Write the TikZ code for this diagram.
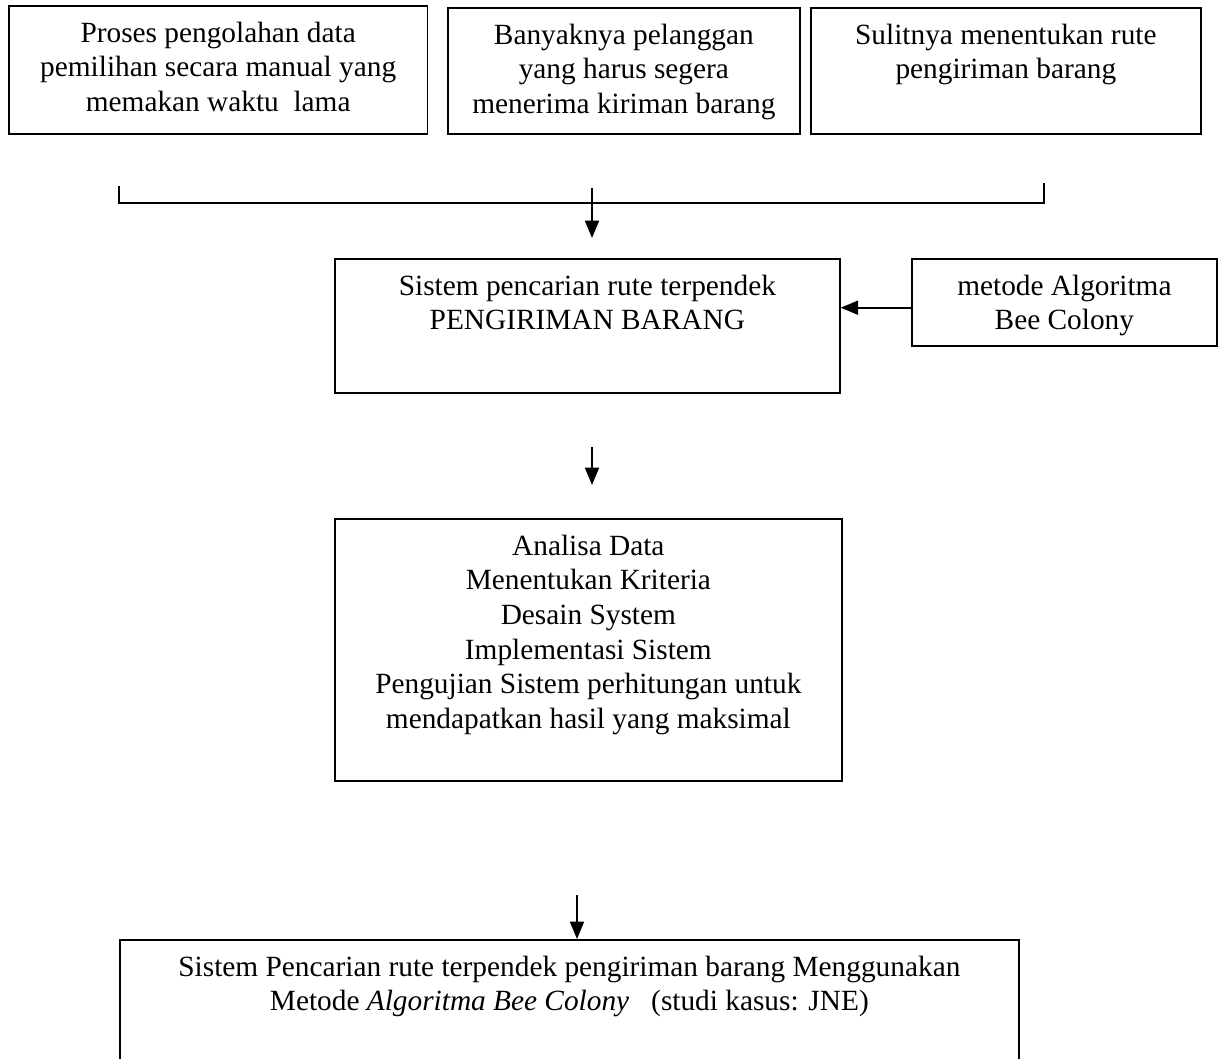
\documentclass[tikz,border=0pt]{standalone}
\usepackage{fontspec}
\setmainfont{Liberation Serif}
\usetikzlibrary{arrows.meta}
\newcommand{\isikotak}[3]{\parbox[t][#2][t]{#1}{\centering\vspace*{9pt}\strut #3}}

\begin{document}
\begin{tikzpicture}[x=0.75pt,y=-0.75pt,
  kotak/.style={draw,line width=1.3pt,inner sep=0pt,anchor=north west,font=\fontsize{22}{26}\selectfont},
  garis/.style={line width=1.3pt},
  panah/.style={garis,-{Triangle[length=13pt,width=10.5pt]}}]
\useasboundingbox (0,0) rectangle (1224,1058);
\clip (0,0) rectangle (1224,1058);
\node[kotak] (masalah1) at (8,5) {\isikotak{314pt}{96pt}{Proses pengolahan data\\ pemilihan secara manual yang\\ memakan waktu\ \ lama}};
\node[kotak] (masalah2) at (447,7) {\isikotak{264pt}{94.5pt}{Banyaknya pelanggan\\ yang harus segera\\ menerima kiriman barang}};
\node[kotak] (masalah3) at (810,7) {\isikotak{292.5pt}{94.5pt}{Sulitnya menentukan rute\\ pengiriman barang}};
\coordinate (kiri) at (119,186);
\coordinate (kanan) at (1044,183);
\coordinate (kananbawah) at (1044,203);
\draw[garis] (kiri) |- (kananbawah) -- (kanan);
\coordinate (gabung) at (592,188);
\coordinate (ujung1) at (592,238);
\draw[panah] (gabung) -- (ujung1);
\node[kotak] (sistem) at (334,258) {\isikotak{378.75pt}{100.5pt}{Sistem pencarian rute terpendek\\ PENGIRIMAN BARANG}};
\node[kotak] (metode) at (911,258) {\isikotak{228.75pt}{65.25pt}{metode Algoritma\\ Bee Colony}};
\coordinate (masuk) at ([yshift=-4pt]metode.west);
\draw[panah] (masuk) -- (masuk -| sistem.east);
\coordinate (turun2) at (592,447);
\coordinate (ujung2) at (592,485);
\draw[panah] (turun2) -- (ujung2);
\node[kotak] (analisa) at (334,518) {\isikotak{380.25pt}{196.5pt}{Analisa Data\\ Menentukan Kriteria\\ Desain System\\ Implementasi Sistem\\ Pengujian Sistem perhitungan untuk\\ mendapatkan hasil yang maksimal}};
\node[kotak] (hasil) at (119,939) {\isikotak{674.25pt}{130pt}{Sistem Pencarian rute terpendek pengiriman barang Menggunakan\\ Metode \textit{Algoritma Bee Colony}\ \ \ (studi kasus: JNE)}};
\coordinate (turun3) at (577,895);
\draw[panah] (turun3) -- (turun3 |- hasil.north);
\end{tikzpicture}
\end{document}
